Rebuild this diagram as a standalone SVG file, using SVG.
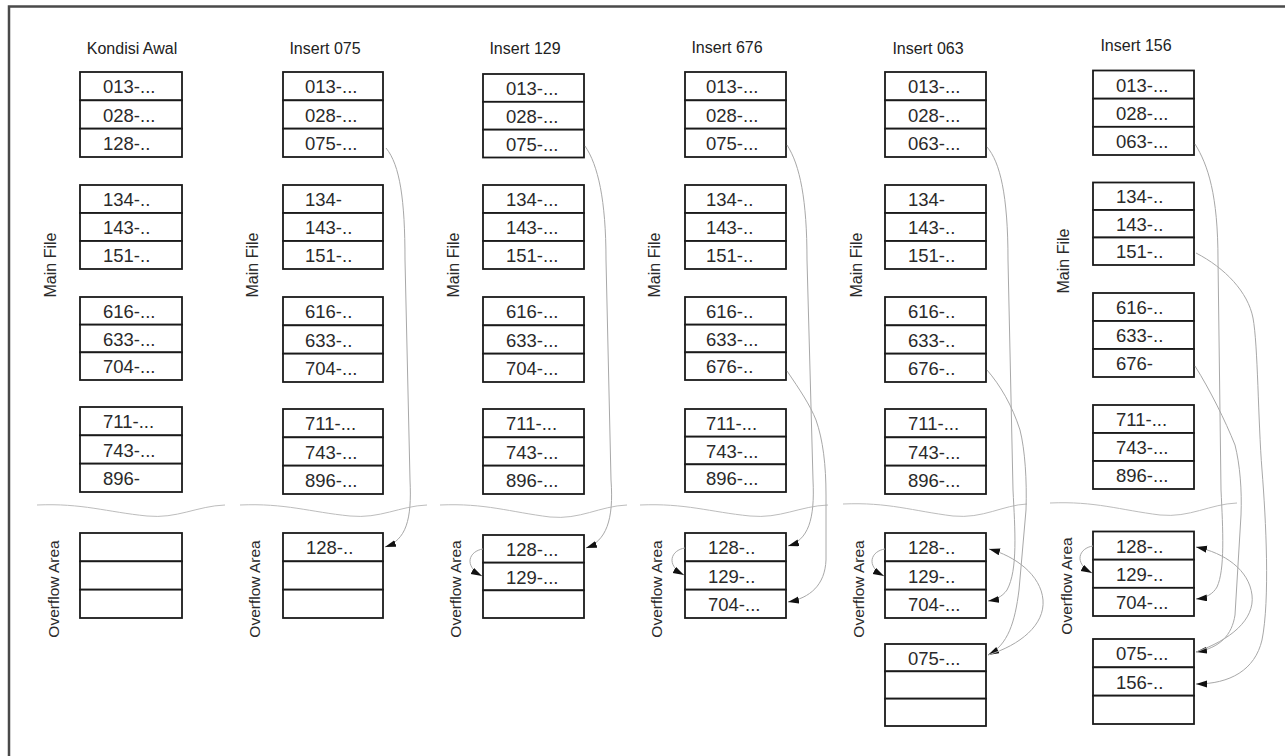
<svg xmlns="http://www.w3.org/2000/svg" width="1285" height="756" viewBox="0 0 1285 756">
<style>
.cell{fill:#fff;stroke:#1a1a1a;stroke-width:1.8}
.ct{font-family:"Liberation Sans",Arial,sans-serif;font-size:18.5px;fill:#2a2a2a}
.title{font-family:"Liberation Sans",Arial,sans-serif;font-size:16px;fill:#222;text-anchor:middle}
.lbl{font-family:"Liberation Sans",Arial,sans-serif;font-size:16px;fill:#2a2a2a;text-anchor:middle}
.sep{fill:none;stroke:#bdbdbd;stroke-width:1}
.conn{fill:none;stroke:#a8a8a8;stroke-width:1;marker-end:url(#ah)}
.frame{fill:none;stroke:#4a4a4a;stroke-width:2.5}
</style>
<defs>
<marker id="ah" markerUnits="userSpaceOnUse" markerWidth="12" markerHeight="8" refX="11" refY="3.5" orient="auto"><path d="M0,0 L11,3.5 L0,7 z" fill="#111"/></marker>
</defs>
<rect width="1285" height="756" fill="#fff"/>
<path class="frame" d="M9,756 V6.5 H1285"/>

<g id="separators">
<path class="sep" d="M37,505 C82,503 107,512 147,516 C177,519 197,506 225,505"/>
<path class="sep" d="M240,505 C285,503 310,512 350,516 C380,519 400,506 427,505"/>
<path class="sep" d="M440,505 C485,503 510,512 550,517 C580,520 600,506 627,505"/>
<path class="sep" d="M640,505 C685,503 710,512 750,516 C780,519 800,506 828,505"/>
<path class="sep" d="M843,504 C888,502 913,511 953,516 C983,519 1003,505 1027,504"/>
<path class="sep" d="M1050,503 C1095,501 1120,510 1160,515 C1190,518 1210,504 1237,503"/>
</g>

<g id="titles">
<text class="title" x="132" y="54">Kondisi Awal</text>
<text class="title" x="325" y="54">Insert 075</text>
<text class="title" x="525" y="54">Insert 129</text>
<text class="title" x="727" y="52.5">Insert 676</text>
<text class="title" x="928" y="54">Insert 063</text>
<text class="title" x="1136" y="51">Insert 156</text>
</g>

<g id="labels">
<text class="lbl" transform="translate(50,265) rotate(-90)" x="0" y="5.7">Main File</text>
<text class="lbl" transform="translate(252,265) rotate(-90)" x="0" y="5.7">Main File</text>
<text class="lbl" transform="translate(453,265) rotate(-90)" x="0" y="5.7">Main File</text>
<text class="lbl" transform="translate(654,265) rotate(-90)" x="0" y="5.7">Main File</text>
<text class="lbl" transform="translate(856,265) rotate(-90)" x="0" y="5.7">Main File</text>
<text class="lbl" transform="translate(1063,261) rotate(-90)" x="0" y="5.7">Main File</text>
<text class="lbl" style="font-size:15.5px" transform="translate(53,589) rotate(-90)" x="0" y="5.5">Overflow Area</text>
<text class="lbl" style="font-size:15.5px" transform="translate(254,589) rotate(-90)" x="0" y="5.5">Overflow Area</text>
<text class="lbl" style="font-size:15.5px" transform="translate(455,589) rotate(-90)" x="0" y="5.5">Overflow Area</text>
<text class="lbl" style="font-size:15.5px" transform="translate(656,589) rotate(-90)" x="0" y="5.5">Overflow Area</text>
<text class="lbl" style="font-size:15.5px" transform="translate(858,589) rotate(-90)" x="0" y="5.5">Overflow Area</text>
<text class="lbl" style="font-size:15.5px" transform="translate(1066,586) rotate(-90)" x="0" y="5.5">Overflow Area</text>
</g>

<!-- Column 1 -->
<g id="c1-main1">
<rect class="cell" x="80" y="72" width="102" height="28.33"/><rect class="cell" x="80" y="100.33" width="102" height="28.33"/><rect class="cell" x="80" y="128.67" width="102" height="28.33"/>
<text class="ct" x="103" y="93.2">013-...</text><text class="ct" x="103" y="121.5">028-...</text><text class="ct" x="103" y="149.8">128-..</text>
</g>
<g id="c1-main2">
<rect class="cell" x="80" y="185" width="102" height="28"/><rect class="cell" x="80" y="213" width="102" height="28"/><rect class="cell" x="80" y="241" width="102" height="28"/>
<text class="ct" x="103" y="206">134-..</text><text class="ct" x="103" y="234">143-..</text><text class="ct" x="103" y="262">151-..</text>
</g>
<g id="c1-main3">
<rect class="cell" x="80" y="297" width="102" height="27.67"/><rect class="cell" x="80" y="324.67" width="102" height="27.67"/><rect class="cell" x="80" y="352.33" width="102" height="27.67"/>
<text class="ct" x="103" y="317.8">616-...</text><text class="ct" x="103" y="345.5">633-...</text><text class="ct" x="103" y="373.2">704-...</text>
</g>
<g id="c1-main4">
<rect class="cell" x="80" y="407" width="102" height="28.33"/><rect class="cell" x="80" y="435.33" width="102" height="28.33"/><rect class="cell" x="80" y="463.67" width="102" height="28.33"/>
<text class="ct" x="103" y="428.2">711-...</text><text class="ct" x="103" y="456.5">743-...</text><text class="ct" x="103" y="484.8">896-</text>
</g>
<g id="c1-over1">
<rect class="cell" x="80" y="533" width="102" height="28.33"/><rect class="cell" x="80" y="561.33" width="102" height="28.33"/><rect class="cell" x="80" y="589.67" width="102" height="28.33"/>
</g>

<!-- Column 2 -->
<g id="c2-main1">
<rect class="cell" x="283" y="72" width="100" height="28.33"/><rect class="cell" x="283" y="100.33" width="100" height="28.33"/><rect class="cell" x="283" y="128.67" width="100" height="28.33"/>
<text class="ct" x="305" y="93.2">013-...</text><text class="ct" x="305" y="121.5">028-...</text><text class="ct" x="305" y="149.8">075-...</text>
</g>
<g id="c2-main2">
<rect class="cell" x="283" y="185" width="100" height="28"/><rect class="cell" x="283" y="213" width="100" height="28"/><rect class="cell" x="283" y="241" width="100" height="28"/>
<text class="ct" x="305" y="206">134-</text><text class="ct" x="305" y="234">143-..</text><text class="ct" x="305" y="262">151-..</text>
</g>
<g id="c2-main3">
<rect class="cell" x="283" y="297" width="100" height="28.33"/><rect class="cell" x="283" y="325.33" width="100" height="28.33"/><rect class="cell" x="283" y="353.67" width="100" height="28.33"/>
<text class="ct" x="305" y="318.2">616-..</text><text class="ct" x="305" y="346.5">633-..</text><text class="ct" x="305" y="374.8">704-...</text>
</g>
<g id="c2-main4">
<rect class="cell" x="283" y="409" width="100" height="28.33"/><rect class="cell" x="283" y="437.33" width="100" height="28.33"/><rect class="cell" x="283" y="465.67" width="100" height="28.33"/>
<text class="ct" x="305" y="430.2">711-...</text><text class="ct" x="305" y="458.5">743-...</text><text class="ct" x="305" y="486.8">896-...</text>
</g>
<g id="c2-over1">
<rect class="cell" x="283" y="533" width="100" height="28.33"/><rect class="cell" x="283" y="561.33" width="100" height="28.33"/><rect class="cell" x="283" y="589.67" width="100" height="28.33"/>
<text class="ct" x="306" y="554.2">128-..</text>
</g>

<!-- Column 3 -->
<g id="c3-main1">
<rect class="cell" x="483" y="74" width="101" height="27.83"/><rect class="cell" x="483" y="101.83" width="101" height="27.83"/><rect class="cell" x="483" y="129.67" width="101" height="27.83"/>
<text class="ct" x="506" y="94.9">013-...</text><text class="ct" x="506" y="122.7">028-...</text><text class="ct" x="506" y="150.6">075-...</text>
</g>
<g id="c3-main2">
<rect class="cell" x="483" y="185" width="101" height="28"/><rect class="cell" x="483" y="213" width="101" height="28"/><rect class="cell" x="483" y="241" width="101" height="28"/>
<text class="ct" x="506" y="206">134-...</text><text class="ct" x="506" y="234">143-...</text><text class="ct" x="506" y="262">151-...</text>
</g>
<g id="c3-main3">
<rect class="cell" x="483" y="297" width="101" height="28.33"/><rect class="cell" x="483" y="325.33" width="101" height="28.33"/><rect class="cell" x="483" y="353.67" width="101" height="28.33"/>
<text class="ct" x="506" y="318.2">616-...</text><text class="ct" x="506" y="346.5">633-...</text><text class="ct" x="506" y="374.8">704-...</text>
</g>
<g id="c3-main4">
<rect class="cell" x="483" y="409" width="101" height="28.33"/><rect class="cell" x="483" y="437.33" width="101" height="28.33"/><rect class="cell" x="483" y="465.67" width="101" height="28.33"/>
<text class="ct" x="506" y="430.2">711-...</text><text class="ct" x="506" y="458.5">743-...</text><text class="ct" x="506" y="486.8">896-...</text>
</g>
<g id="c3-over1">
<rect class="cell" x="483" y="535" width="101" height="27.67"/><rect class="cell" x="483" y="562.67" width="101" height="27.67"/><rect class="cell" x="483" y="590.33" width="101" height="27.67"/>
<text class="ct" x="506" y="555.8">128-...</text><text class="ct" x="506" y="583.5">129-...</text>
</g>

<!-- Column 4 -->
<g id="c4-main1">
<rect class="cell" x="685" y="72" width="101" height="28.33"/><rect class="cell" x="685" y="100.33" width="101" height="28.33"/><rect class="cell" x="685" y="128.67" width="101" height="28.33"/>
<text class="ct" x="706" y="93.2">013-...</text><text class="ct" x="706" y="121.5">028-...</text><text class="ct" x="706" y="149.8">075-...</text>
</g>
<g id="c4-main2">
<rect class="cell" x="685" y="185" width="101" height="28"/><rect class="cell" x="685" y="213" width="101" height="28"/><rect class="cell" x="685" y="241" width="101" height="28"/>
<text class="ct" x="706" y="206">134-..</text><text class="ct" x="706" y="234">143-..</text><text class="ct" x="706" y="262">151-..</text>
</g>
<g id="c4-main3">
<rect class="cell" x="685" y="297" width="101" height="27.67"/><rect class="cell" x="685" y="324.67" width="101" height="27.67"/><rect class="cell" x="685" y="352.33" width="101" height="27.67"/>
<text class="ct" x="706" y="317.8">616-..</text><text class="ct" x="706" y="345.5">633-...</text><text class="ct" x="706" y="373.2">676-..</text>
</g>
<g id="c4-main4">
<rect class="cell" x="685" y="409" width="101" height="27.67"/><rect class="cell" x="685" y="436.67" width="101" height="27.67"/><rect class="cell" x="685" y="464.33" width="101" height="27.67"/>
<text class="ct" x="706" y="429.8">711-...</text><text class="ct" x="706" y="457.5">743-...</text><text class="ct" x="706" y="485.2">896-...</text>
</g>
<g id="c4-over1">
<rect class="cell" x="685" y="533" width="101" height="28.33"/><rect class="cell" x="685" y="561.33" width="101" height="28.33"/><rect class="cell" x="685" y="589.67" width="101" height="28.33"/>
<text class="ct" x="708" y="554.2">128-..</text><text class="ct" x="708" y="582.5">129-..</text><text class="ct" x="708" y="610.8">704-...</text>
</g>

<!-- Column 5 -->
<g id="c5-main1">
<rect class="cell" x="885" y="72" width="101" height="28.33"/><rect class="cell" x="885" y="100.33" width="101" height="28.33"/><rect class="cell" x="885" y="128.67" width="101" height="28.33"/>
<text class="ct" x="908" y="93.2">013-...</text><text class="ct" x="908" y="121.5">028-...</text><text class="ct" x="908" y="149.8">063-...</text>
</g>
<g id="c5-main2">
<rect class="cell" x="885" y="185" width="101" height="28"/><rect class="cell" x="885" y="213" width="101" height="28"/><rect class="cell" x="885" y="241" width="101" height="28"/>
<text class="ct" x="908" y="206">134-</text><text class="ct" x="908" y="234">143-..</text><text class="ct" x="908" y="262">151-..</text>
</g>
<g id="c5-main3">
<rect class="cell" x="885" y="297" width="101" height="28.33"/><rect class="cell" x="885" y="325.33" width="101" height="28.33"/><rect class="cell" x="885" y="353.67" width="101" height="28.33"/>
<text class="ct" x="908" y="318.2">616-..</text><text class="ct" x="908" y="346.5">633-..</text><text class="ct" x="908" y="374.8">676-..</text>
</g>
<g id="c5-main4">
<rect class="cell" x="885" y="409" width="101" height="28.33"/><rect class="cell" x="885" y="437.33" width="101" height="28.33"/><rect class="cell" x="885" y="465.67" width="101" height="28.33"/>
<text class="ct" x="908" y="430.2">711-...</text><text class="ct" x="908" y="458.5">743-...</text><text class="ct" x="908" y="486.8">896-...</text>
</g>
<g id="c5-over1">
<rect class="cell" x="885" y="533" width="101" height="28.33"/><rect class="cell" x="885" y="561.33" width="101" height="28.33"/><rect class="cell" x="885" y="589.67" width="101" height="28.33"/>
<text class="ct" x="908" y="554.2">128-..</text><text class="ct" x="908" y="582.5">129-..</text><text class="ct" x="908" y="610.8">704-...</text>
</g>
<g id="c5-over2">
<rect class="cell" x="885" y="644" width="101" height="27.33"/><rect class="cell" x="885" y="671.33" width="101" height="27.33"/><rect class="cell" x="885" y="698.67" width="101" height="27.33"/>
<text class="ct" x="908" y="664.7">075-...</text>
</g>

<!-- Column 6 -->
<g id="c6-main1">
<rect class="cell" x="1093" y="70.5" width="101" height="28.17"/><rect class="cell" x="1093" y="98.67" width="101" height="28.17"/><rect class="cell" x="1093" y="126.83" width="101" height="28.17"/>
<text class="ct" x="1116" y="91.6">013-...</text><text class="ct" x="1116" y="119.8">028-...</text><text class="ct" x="1116" y="147.9">063-...</text>
</g>
<g id="c6-main2">
<rect class="cell" x="1093" y="182.5" width="101" height="27.5"/><rect class="cell" x="1093" y="210" width="101" height="27.5"/><rect class="cell" x="1093" y="237.5" width="101" height="27.5"/>
<text class="ct" x="1116" y="203.3">134-..</text><text class="ct" x="1116" y="230.8">143-..</text><text class="ct" x="1116" y="258.3">151-..</text>
</g>
<g id="c6-main3">
<rect class="cell" x="1093" y="293" width="101" height="28"/><rect class="cell" x="1093" y="321" width="101" height="28"/><rect class="cell" x="1093" y="349" width="101" height="28"/>
<text class="ct" x="1116" y="314">616-..</text><text class="ct" x="1116" y="342">633-..</text><text class="ct" x="1116" y="370">676-</text>
</g>
<g id="c6-main4">
<rect class="cell" x="1093" y="405" width="101" height="28"/><rect class="cell" x="1093" y="433" width="101" height="28"/><rect class="cell" x="1093" y="461" width="101" height="28"/>
<text class="ct" x="1116" y="426">711-...</text><text class="ct" x="1116" y="454">743-...</text><text class="ct" x="1116" y="482">896-...</text>
</g>
<g id="c6-over1">
<rect class="cell" x="1093" y="531.5" width="101" height="28.17"/><rect class="cell" x="1093" y="559.67" width="101" height="28.17"/><rect class="cell" x="1093" y="587.83" width="101" height="28.17"/>
<text class="ct" x="1116" y="552.6">128-..</text><text class="ct" x="1116" y="580.8">129-..</text><text class="ct" x="1116" y="608.9">704-...</text>
</g>
<g id="c6-over2">
<rect class="cell" x="1093" y="639" width="101" height="28.33"/><rect class="cell" x="1093" y="667.33" width="101" height="28.33"/><rect class="cell" x="1093" y="695.67" width="101" height="28.33"/>
<text class="ct" x="1116" y="660.2">075-...</text><text class="ct" x="1116" y="688.5">156-..</text>
</g>

<g id="connectors">
<!-- col2 -->
<path class="conn" d="M386,148 C400,165 405,200 405,260 L410,480 C412,520 406,540 385,547"/>
<!-- col3 -->
<path class="conn" d="M585,146 C598,165 606,200 606,260 L611,480 C614,520 606,541 586,548"/>
<path class="conn" d="M483,549 C469,551 463,566 482,576"/>
<!-- col4 -->
<path class="conn" d="M787,145 C800,165 807,200 807,260 L813,480 C815,520 808,540 788,546"/>
<path class="conn" d="M787,371 C800,390 810,405 816,420 C823,440 826,465 826,495 L826,560 C825,585 810,598 788,602"/>
<path class="conn" d="M685,548 C671,550 665,565 684,575"/>
<!-- col5 -->
<path class="conn" d="M987,147 C1000,162 1008,195 1008,260 L1013,490 C1015,530 1018,570 1007,590 C1002,597 995,600 988,601"/>
<path class="conn" d="M987,370 C1000,385 1012,405 1020,430 C1025,450 1027,480 1026,510 L1019,590 C1015,622 1008,645 988,655"/>
<path class="conn" d="M988,655 C1020,645 1045,625 1043,600 C1041,575 1015,556 989,549"/>
<path class="conn" d="M885,549 C871,551 865,566 884,576"/>
<!-- col6 -->
<path class="conn" d="M1195,144 C1208,165 1218,195 1218,260 L1221,490 C1223,530 1225,570 1217,587 C1213,594 1206,598 1196,599"/>
<path class="conn" d="M1195,366 C1210,390 1225,420 1235,445 C1240,465 1242,490 1241,515 L1235,615 C1232,635 1220,648 1196,652"/>
<path class="conn" d="M1196,253 C1225,268 1248,292 1253,318 C1258,345 1258,420 1262,470 C1266,520 1270,600 1262,640 C1255,670 1230,684 1196,684"/>
<path class="conn" d="M1196,652 C1230,640 1255,620 1252,595 C1249,570 1225,553 1196,547"/>
<path class="conn" d="M1093,546 C1079,548 1073,563 1092,573"/>
</g>
</svg>
